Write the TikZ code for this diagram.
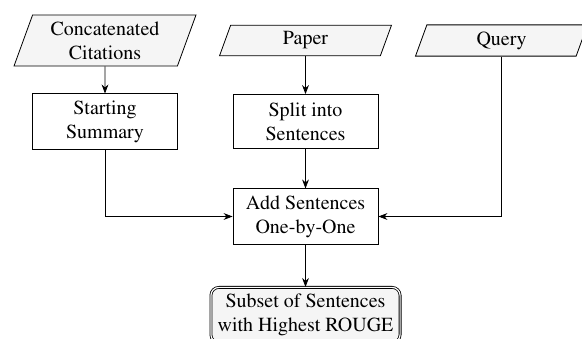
\documentclass[tikz,border=0pt]{standalone}
\usepackage[T1]{fontenc}
\usepackage{times}
\usetikzlibrary{shapes.geometric,positioning,arrows.meta}

\begin{document}
\begin{tikzpicture}[node distance=40.5pt, auto,
        datain/.style={draw, trapezium, trapezium left angle=70, trapezium right angle=110, trapezium stretches body=true, fill=gray!8, minimum width=86pt, align=center},
        process/.style={draw, rectangle, minimum width=72.5pt, minimum height=27pt, align=center},
        result/.style={draw, double, rounded corners=4pt, fill=gray!8, align=center},
        flow/.style={-{Stealth[length=4.5pt, width=3.4pt]}}]
        \useasboundingbox (0,0) rectangle (291pt,-169pt);
        % Nodes
        \node[datain, minimum width=91pt] (Citations) at (52.5pt,-20.25pt) {Concatenated\\Citations};
        \node[datain, right of=Citations, xshift=59.75pt] (Paper) {Paper};
        \node[datain, right of=Paper, xshift=57.5pt] (Query) {Query};
        \node[process, below of=Citations] (Start) {Starting\\Summary};
        \node[process, below of=Paper] (Split) {Split into\\Sentences};
        \node[process, below of=Split, yshift=-7pt] (Add) {Add Sentences\\One-by-One};
        \node[result, below of=Add, yshift=-8.75pt] (Subset) {Subset of Sentences\\with Highest ROUGE};

        % Arrows
        \draw[flow] (Citations) -- (Start);
        \draw[flow] (Paper) -- (Split);
        \draw[flow] (Split) -- (Add);
        \draw[flow] (Start) |- (Add);
        \draw[flow] (Query) |- (Add);
        \draw[flow] (Add) -- (Subset);
    \end{tikzpicture}
\end{document}
